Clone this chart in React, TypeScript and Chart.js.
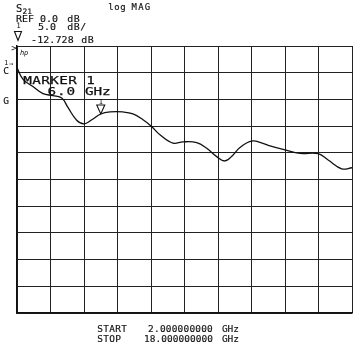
import React, { useEffect, useRef } from "react";
import { Chart, registerables } from "chart.js";

Chart.register(...registerables);

// Frequency (GHz) and S21 magnitude (dB)
const freqGHz = [2.0, 2.3, 2.76, 3.24, 3.72, 4.15, 4.44, 4.85, 5.2, 5.57, 6.0, 6.44, 7.06, 7.54, 8.02, 8.43, 8.83, 9.45, 9.93, 10.58, 11.06, 11.54, 11.93, 12.32, 12.65, 13.21, 13.75, 14.0, 14.8, 15.52, 16.38, 16.86, 17.51, 18.0];
const s21dB = [-4.1, -6.3, -7.6, -8.93, -9.3, -9.8, -11.56, -13.9, -14.57, -13.82, -12.73, -12.35, -12.35, -12.7, -13.82, -15.08, -16.64, -18.2, -17.95, -18.09, -19.14, -20.72, -21.53, -20.4, -19.0, -17.8, -18.25, -18.6, -19.46, -20.1, -20.15, -21.34, -23.0, -22.8];

const xTicks = [2, 3.6, 5.2, 6.8, 8.4, 10, 11.6, 13.2, 14.8, 16.4, 18];
const yTicks = [0, -5, -10, -15, -20, -25, -30, -35, -40, -45, -50];

const markerFreq = 6.0;
const markerValue = -12.728;

const INK = "#111";
const MONO = '"DejaVu Sans Mono"';

function mono(ctx: CanvasRenderingContext2D, s: string, x: number, y: number, size: number, pitch: number, sx = 1.05, stroke = 0.15, style = "") {
  ctx.font = `${style}${size}px ${MONO}`;
  ctx.textBaseline = "alphabetic";
  ctx.textAlign = "center";
  ctx.lineWidth = stroke;
  for (let i = 0; i < s.length; i++) {
    ctx.save();
    ctx.translate(x + i * pitch + pitch / 2, y);
    ctx.scale(sx, 1);
    ctx.fillText(s[i], 0, 0);
    if (stroke > 0) ctx.strokeText(s[i], 0, 0);
    ctx.restore();
  }
}

const annotations = {
  id: "hpAnnotations",
  afterDraw(chart: any) {
    const ctx: CanvasRenderingContext2D = chart.ctx;
    const xs = chart.scales.x;
    const ys = chart.scales.y;
    ctx.save();
    ctx.fillStyle = INK;
    ctx.strokeStyle = INK;

    // header
    mono(ctx, "S", 16, 11.5, 10, 6.5);
    mono(ctx, "21", 22.5, 13.5, 7.5, 4.8);
    mono(ctx, "log", 108, 10, 8.5, 6);
    mono(ctx, "MAG", 131, 10, 8.5, 6.6);
    mono(ctx, "REF", 16, 21.5, 9.5, 6);
    mono(ctx, "0.0", 40, 21.5, 9.5, 6);
    mono(ctx, "dB", 67, 21.5, 9.5, 6.5);
    mono(ctx, "1", 16, 28, 7.5, 5, 1, 0);
    mono(ctx, "5.0", 38, 30, 9.5, 6);
    mono(ctx, "dB/", 67, 30, 9.5, 6.5);
    ctx.lineWidth = 1.1;
    ctx.beginPath();
    ctx.moveTo(14.5, 31.5);
    ctx.lineTo(21.5, 31.5);
    ctx.lineTo(18, 40.5);
    ctx.closePath();
    ctx.stroke();
    mono(ctx, "-12.728", 31, 42.5, 9.5, 6.1);
    mono(ctx, "dB", 81, 42.5, 9.5, 6.5);

    // reference / channel marks on the left
    mono(ctx, ">", 11, 51, 9, 6, 1, 0);
    mono(ctx, "hp", 20, 55, 7, 4, 1, 0, "italic ");
    mono(ctx, "1", 4, 65, 7, 4, 1, 0);
    mono(ctx, "\u2192", 8, 66, 7, 6, 1, 0);
    mono(ctx, "C", 3, 74, 9, 6);
    mono(ctx, "G", 3, 104, 9, 6);

    // marker annotation
    mono(ctx, "MARKER", 23, 84, 11, 9, 1.3, 0.25);
    mono(ctx, "1", 86, 84, 11, 9, 1.3, 0.25);
    mono(ctx, "6.0", 47, 95, 11, 9.5, 1.3, 0.25);
    mono(ctx, "GHz", 85, 95, 11, 8.5, 1.3, 0.25);

    const mx = xs.getPixelForValue(markerFreq);
    const my = ys.getPixelForValue(markerValue);
    mono(ctx, "1", mx - 3, my - 10, 7, 6, 1, 0);
    ctx.lineWidth = 1.1;
    ctx.beginPath();
    ctx.moveTo(mx - 4, my - 9);
    ctx.lineTo(mx + 4, my - 9);
    ctx.lineTo(mx, my);
    ctx.closePath();
    ctx.stroke();

    // footer
    mono(ctx, "START", 97, 331.5, 9, 6);
    mono(ctx, "2.000000000", 148, 331.5, 9, 5.9);
    mono(ctx, "GHz", 222, 331.5, 9, 5.6);
    mono(ctx, "STOP", 97, 342, 9, 6);
    mono(ctx, "18.000000000", 144, 342, 9, 5.75);
    mono(ctx, "GHz", 222, 342, 9, 5.6);
    ctx.restore();
  },
};

export default function App() {
  const ref = useRef<HTMLCanvasElement>(null);
  useEffect(() => {
    if (!ref.current) return;
    const chart = new Chart(ref.current, {
      type: "line",
      data: {
        datasets: [
          {
            data: freqGHz.map((f, i) => ({ x: f, y: s21dB[i] })),
            borderColor: INK,
            borderWidth: 1.3,
            pointRadius: 0,
            fill: false,
            tension: 0.4,
          },
        ],
      },
      options: {
        responsive: false,
        animation: false,
        events: [],
        layout: { padding: { left: 17, top: 46, right: 8, bottom: 34 } },
        plugins: { legend: { display: false }, tooltip: { enabled: false }, title: { display: false } },
        scales: {
          x: {
            type: "linear",
            min: 2,
            max: 18,
            afterBuildTicks: (s: any) => {
              s.ticks = xTicks.map((v) => ({ value: v }));
            },
            ticks: { display: false },
            grid: { color: "#222", lineWidth: 1, drawTicks: false },
            border: { display: true, color: INK, width: 1.5 },
          },
          y: {
            type: "linear",
            min: -50,
            max: 0,
            afterBuildTicks: (s: any) => {
              s.ticks = yTicks.map((v) => ({ value: v }));
            },
            ticks: { display: false },
            grid: { color: "#222", lineWidth: 1, drawTicks: false },
            border: { display: true, color: INK, width: 1.5 },
          },
        },
      },
      plugins: [annotations],
    } as any);
    return () => chart.destroy();
  }, []);
  return (
    <div style={{ position: "absolute", left: 0, top: 0, width: 360, height: 347, background: "#fff" }}>
      <canvas ref={ref} width={360} height={347} style={{ display: "block" }} />
    </div>
  );
}
